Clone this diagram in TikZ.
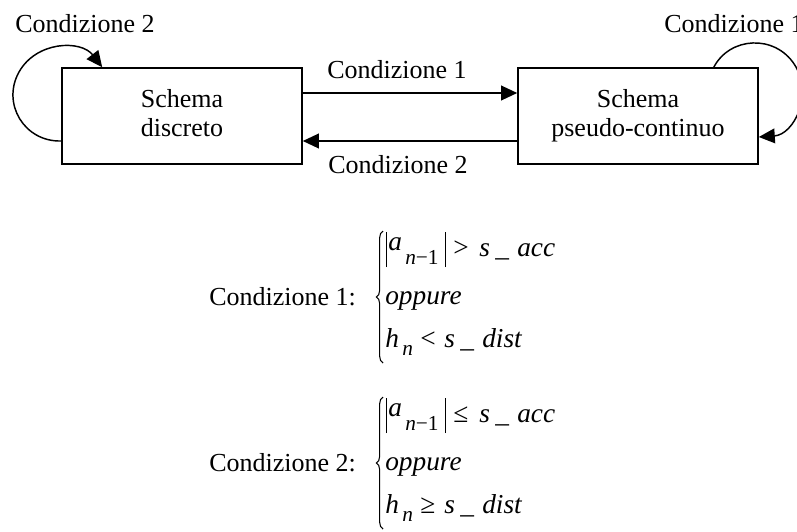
\documentclass[tikz,border=0pt]{standalone}
\usepackage{fontspec}
\setmainfont{Liberation Serif}
\usetikzlibrary{arrows.meta,decorations.pathreplacing}
\newcommand{\lbl}{\fontsize{19.5pt}{21.75pt}\selectfont}
\newcommand{\fml}{\fontsize{20.5pt}{24pt}\selectfont}
\newcommand{\subf}{\fontsize{16pt}{17pt}\selectfont}
\newcommand{\putat}[2]{\makebox[0pt][l]{\hspace*{#1}#2}}
\newcommand{\absbar}{\rule[-8.25pt]{0.9pt}{26.25pt}}
\newcommand{\rowA}[1]{\putat{0.75pt}{\absbar}\putat{2.25pt}{\raisebox{4.5pt}{\textit{a}}}\putat{15pt}{\raisebox{-6pt}{\subf\textit{n}−1}}\putat{45pt}{\absbar}\putat{51pt}{#1}\putat{70.5pt}{\textit{s}}\putat{82.5pt}{\textit{\_}}\putat{99pt}{\textit{acc}}\hspace*{128pt}}
\newcommand{\rowC}[1]{\putat{0pt}{\textit{h}}\putat{12.75pt}{\raisebox{-6pt}{\subf\textit{n}}}\putat{26.25pt}{#1}\putat{44.25pt}{\textit{s}}\putat{56.25pt}{\textit{\_}}\putat{72.75pt}{\textit{dist}}\hspace*{104pt}}
\begin{document}
\begin{tikzpicture}[x=0.75pt,y=-0.75pt,
  box/.style={draw,line width=1.2pt,minimum width=180pt,minimum height=72pt,inner sep=0pt,align=center,font=\lbl},
  txt/.style={inner sep=0pt,font=\lbl},
  ftxt/.style={inner sep=0pt,font=\fml,anchor=base west},
  arr/.style={line width=1.2pt,-{Triangle[length=12pt,width=11pt]}},
  loop/.style={line width=1.1pt,-{Triangle[length=12pt,width=11pt]}},
  brc/.style={decorate,decoration={brace,amplitude=5pt},line width=0.8pt}]
\fill[white] (0,0) rectangle (797,532);
\useasboundingbox (0,0) rectangle (797,532);
% boxes
\node[box] (L) at (182,116) {\strut Schema\\\strut discreto};
\node[box] (R) at (638,116) {\strut Schema\\\strut pseudo-continuo};
% transitions
\draw[arr] ([yshift=17.25pt]L.east) -- ([yshift=17.25pt]R.west);
\draw[arr] ([yshift=-18.75pt]R.west) -- ([yshift=-18.75pt]L.east);
\node[txt,anchor=base] (c1) at (397,78) {Condizione 1};
\node[txt,anchor=base] (c2) at (398,173) {Condizione 2};
% self loops
\draw[loop] ([yshift=-18.75pt]L.west) .. controls (24.2,142) and (1.5,103.5) .. (18.9,72.2)
  .. controls (36.3,40.9) and (80.9,39.7) .. ([xshift=30.75pt]L.north west);
\node[txt,anchor=base west] (cl) at (15,32) {Condizione 2};
\draw[loop] ([xshift=-33.75pt]R.north east) .. controls (730.0,36.4) and (774.8,34.3) .. (794.4,64.4)
  .. controls (814.0,94.5) and (793.8,134.6) .. ([yshift=-15.75pt]R.east);
\node[txt,anchor=base west] (cr) at (664,32) {Condizione 1};
% condition 1
\node[ftxt,font=\lbl] (k1) at (209,305) {Condizione 1:};
\coordinate (b1t) at (383,231);
\coordinate (b1b) at (383,363);
\draw[brc] (b1b) -- (b1t);
\node[ftxt] (k1a) at (385,256) {\rowA{>}};
\node[ftxt] (k1b) at (385,304) {\textit{oppure}};
\node[ftxt] (k1c) at (385,347) {\rowC{<}};
% condition 2
\node[ftxt,font=\lbl] (k2) at (209,471) {Condizione 2:};
\coordinate (b2t) at (383,397);
\coordinate (b2b) at (383,529);
\draw[brc] (b2b) -- (b2t);
\node[ftxt] (k2a) at (385,422) {\rowA{≤}};
\node[ftxt] (k2b) at (385,470) {\textit{oppure}};
\node[ftxt] (k2c) at (385,513) {\rowC{≥}};
\end{tikzpicture}
\end{document}
